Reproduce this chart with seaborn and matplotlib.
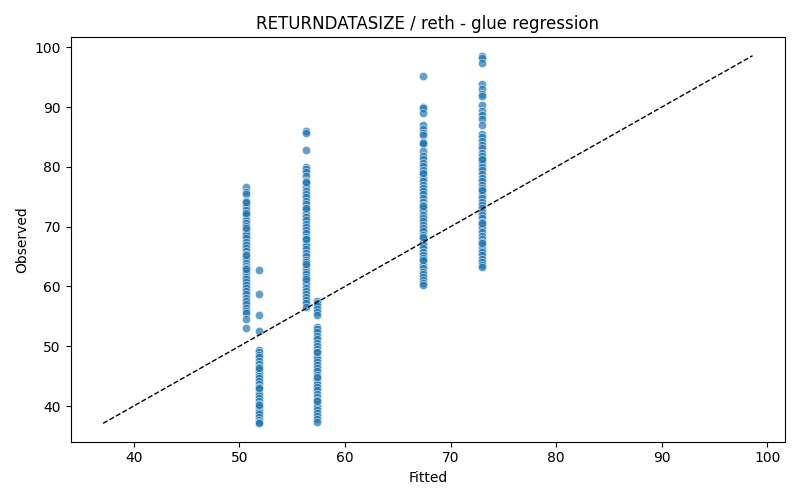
import pandas as pd
import numpy as np
import matplotlib
matplotlib.use('Agg')
import matplotlib.pyplot as plt
import seaborn as sns

fitted_levels = [50.65, 51.85, 56.3, 57.4, 67.35, 73.0]

obs_1 = [76.6, 75.8, 75.5, 74.3, 73.9, 73.4, 72.8, 72.1, 71.9, 71.2, 70.6, 70.1, 69.5, 69.0,
         68.6, 68.1, 67.4, 66.9, 66.5, 66.0, 65.5, 64.9, 64.6, 64.0, 63.5, 63.1, 62.6, 62.2,
         61.6, 61.3, 60.7, 60.2, 59.7, 59.2, 58.7, 58.0, 57.6, 57.1, 56.4, 55.9, 55.6, 54.6,
         53.0, 74.1, 72.3, 69.8, 65.2, 62.9]
obs_2 = [62.7, 58.8, 55.2, 52.5, 49.3, 49.0, 48.6, 48.2, 47.6, 47.1, 46.5, 46.1, 45.6, 45.0,
         44.7, 44.2, 43.7, 43.2, 42.8, 42.2, 41.8, 41.3, 40.8, 40.3, 39.9, 39.4, 39.0, 38.6,
         38.1, 37.7, 37.3, 37.1, 46.3, 43.0, 40.1]
obs_3 = [86.0, 85.7, 82.8, 80.0, 79.6, 79.2, 78.4, 77.6, 77.3, 76.6, 76.0, 75.4, 75.0, 74.3,
         73.8, 73.2, 72.8, 72.1, 71.6, 71.1, 70.5, 70.0, 69.4, 68.9, 68.3, 67.9, 67.2, 66.8,
         66.2, 65.6, 65.1, 64.5, 64.1, 63.5, 63.0, 62.4, 62.0, 61.5, 60.9, 60.4, 59.8, 59.3,
         58.8, 58.3, 57.8, 57.2, 56.5, 77.4, 73.1, 68.0, 63.7, 61.2]
obs_4 = [57.6, 57.2, 56.8, 56.3, 55.7, 55.2, 53.2, 52.8, 52.4, 51.7, 51.2, 50.6, 50.1, 49.5,
         49.0, 48.4, 47.9, 47.4, 46.8, 46.3, 45.8, 45.2, 44.7, 44.2, 43.6, 43.1, 42.6, 42.0,
         41.5, 41.0, 40.4, 39.9, 39.3, 38.8, 38.3, 37.8, 37.3, 49.1, 44.9, 40.9]
obs_5 = [95.2, 90.0, 89.8, 89.0, 87.0, 86.4, 85.6, 85.3, 84.1, 83.9, 82.6, 81.9, 81.4, 80.6,
         80.1, 79.5, 78.8, 78.2, 77.6, 77.0, 76.5, 76.0, 75.4, 74.8, 74.2, 73.7, 73.1, 72.6,
         72.0, 71.4, 70.9, 70.3, 69.8, 69.2, 68.6, 68.1, 67.5, 67.0, 66.4, 65.8, 65.3, 64.7,
         64.2, 63.6, 63.1, 62.5, 62.0, 61.5, 61.0, 60.6, 60.2, 84.0, 79.0, 73.4, 68.3, 64.5]
obs_6 = [98.6, 98.2, 97.3, 93.9, 93.0, 92.2, 91.9, 90.4, 89.3, 88.6, 88.0, 87.0, 85.5, 85.0,
         84.3, 83.6, 83.1, 82.4, 81.9, 81.2, 80.6, 80.0, 79.4, 78.8, 78.2, 77.7, 77.0, 76.5,
         75.9, 75.3, 74.8, 74.2, 73.6, 73.1, 72.5, 71.9, 71.4, 70.8, 70.2, 69.7, 69.1, 68.5,
         68.0, 67.4, 66.9, 66.3, 65.7, 65.2, 64.6, 64.1, 63.6, 63.2, 81.3, 76.1, 70.6, 67.2]

groups = [obs_1, obs_2, obs_3, obs_4, obs_5, obs_6]
rows = []
for f, obs in zip(fitted_levels, groups):
    for o in obs:
        rows.append({'Fitted': f, 'Observed': o})
data = pd.DataFrame(rows)

plt.figure(figsize=(8, 5), dpi=100)
ax = sns.scatterplot(x='Fitted', y='Observed', data=data, alpha=0.7)
lo = min(data['Fitted'].min(), data['Observed'].min())
hi = max(data['Fitted'].max(), data['Observed'].max())
ax.plot([lo, hi], [lo, hi], 'k--', linewidth=1)
plt.title('RETURNDATASIZE / reth - glue regression')
plt.xlabel('Fitted')
plt.ylabel('Observed')
plt.tight_layout()
plt.savefig('out.png', dpi=100)
